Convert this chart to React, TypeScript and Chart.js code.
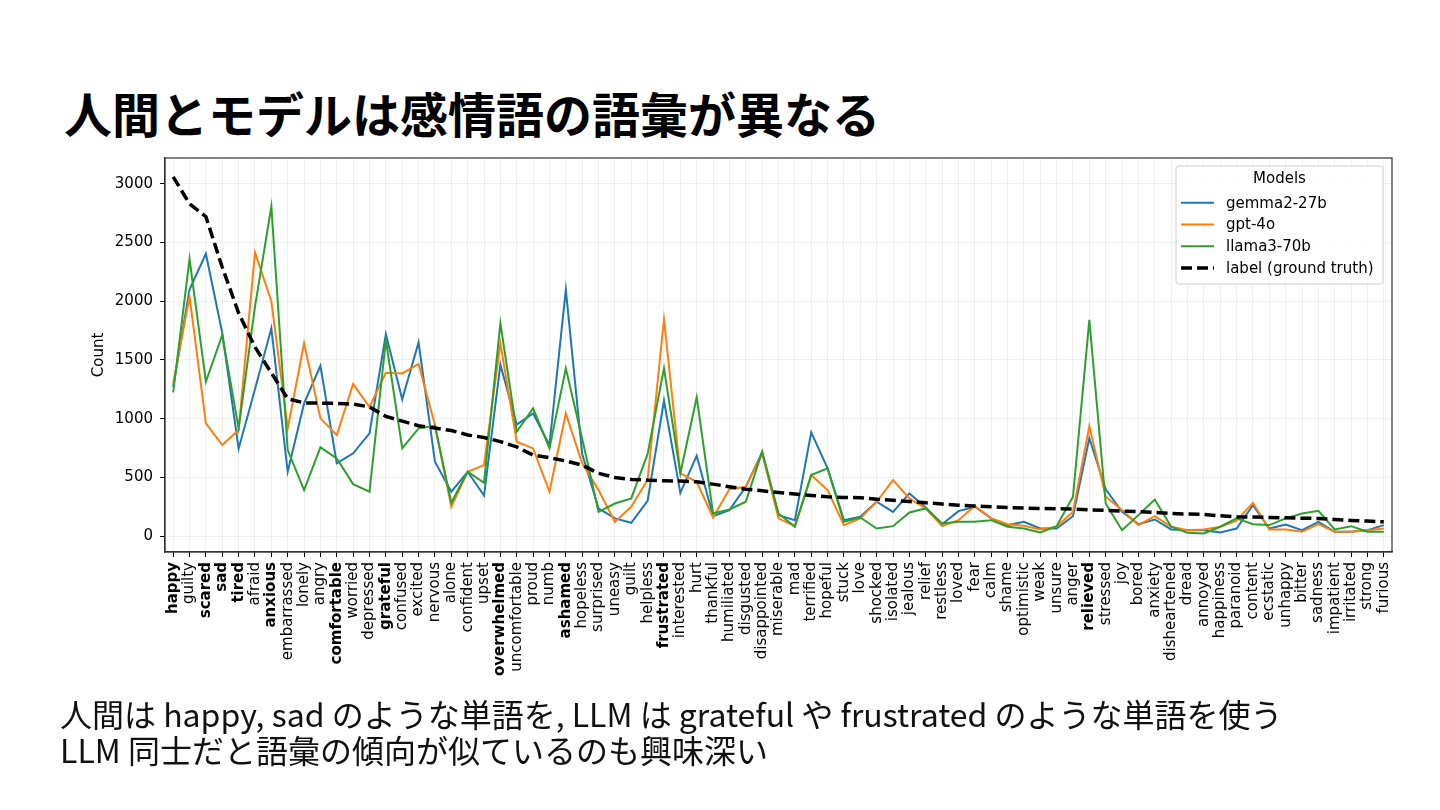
import { useEffect, useRef } from 'react';
import { Chart, registerables } from 'chart.js';

Chart.register(...registerables);

const categories = [
  'happy', 'guilty', 'scared', 'sad', 'tired', 'afraid', 'anxious', 'embarrassed', 'lonely', 'angry',
  'comfortable', 'worried', 'depressed', 'grateful', 'confused', 'excited', 'nervous', 'alone', 'confident', 'upset',
  'overwhelmed', 'uncomfortable', 'proud', 'numb', 'ashamed', 'hopeless', 'surprised', 'uneasy', 'guilt', 'helpless',
  'frustrated', 'interested', 'hurt', 'thankful', 'humiliated', 'disgusted', 'disappointed', 'miserable', 'mad', 'terrified',
  'hopeful', 'stuck', 'love', 'shocked', 'isolated', 'jealous', 'relief', 'restless', 'loved', 'fear',
  'calm', 'shame', 'optimistic', 'weak', 'unsure', 'anger', 'relieved', 'stressed', 'joy', 'bored',
  'anxiety', 'disheartened', 'dread', 'annoyed', 'happiness', 'paranoid', 'content', 'ecstatic', 'unhappy', 'bitter',
  'sadness', 'impatient', 'irritated', 'strong', 'furious',
];

const boldWords = [
  'happy', 'scared', 'sad', 'tired', 'anxious', 'comfortable', 'grateful',
  'overwhelmed', 'ashamed', 'frustrated', 'relieved',
];

const gemmaCounts = [
  1270, 2100, 2405, 1730, 745, 1250, 1770, 548, 1130, 1450,
  620, 705, 875, 1720, 1165, 1650, 634, 378, 548, 345,
  1460, 950, 1045, 776, 2100, 700, 236, 151, 114, 301,
  1155, 369, 685, 170, 222, 420, 715, 179, 136, 885,
  577, 136, 165, 293, 207, 364, 244, 102, 213, 250,
  151, 94, 122, 65, 65, 170, 835, 398, 207, 102,
  142, 57, 51, 51, 31, 65, 264, 65, 99, 51,
  122, 37, 37, 51, 94,
];

const gptCounts = [
  1300, 2040, 960, 776, 903, 2415, 2000, 918, 1642, 1003,
  861, 1295, 1100, 1392, 1386, 1466, 946, 250, 548, 605,
  1642, 804, 747, 378, 1045, 620, 392, 122, 250, 480,
  1845, 534, 463, 159, 400, 420, 705, 151, 85, 520,
  392, 94, 151, 293, 477, 321, 236, 85, 136, 256,
  151, 102, 88, 57, 80, 207, 938, 335, 222, 94,
  170, 80, 51, 57, 80, 131, 284, 57, 57, 37,
  102, 37, 37, 51, 65,
];

const llamaCounts = [
  1224, 2360, 1315, 1713, 918, 1955, 2807, 733, 392, 756,
  662, 443, 378, 1670, 747, 918, 940, 284, 548, 455,
  1813, 889, 1088, 747, 1429, 830, 207, 278, 321, 700,
  1429, 534, 1182, 193, 227, 293, 719, 193, 80, 520,
  577, 122, 159, 65, 85, 202, 236, 108, 122, 122,
  136, 80, 65, 31, 85, 335, 1841, 278, 51, 179,
  312, 80, 28, 23, 80, 151, 102, 94, 151, 193,
  216, 57, 85, 37, 37,
];

const labelCounts = [
  3060, 2830, 2720, 2290, 1900, 1610, 1390, 1170, 1135, 1133,
  1130, 1125, 1100, 1020, 980, 940, 920, 900, 862, 840,
  805, 760, 690, 668, 640, 605, 535, 500, 483, 477,
  472, 469, 463, 443, 420, 400, 386, 372, 358, 347,
  335, 330, 327, 315, 305, 295, 284, 273, 264, 256,
  250, 244, 239, 236, 233, 230, 224, 219, 213, 208,
  202, 193, 188, 185, 173, 165, 162, 159, 156, 153,
  151, 142, 134, 128, 122,
];

const yTicks = [0, 500, 1000, 1500, 2000, 2500, 3000];

const FONT = "'DejaVu Sans', sans-serif";
const JP_FONT = "'Noto Sans CJK JP', 'Noto Sans', sans-serif";

const legendEntries = [
  { text: 'gemma2-27b', color: '#1f77b4', dash: [] as number[], width: 2 },
  { text: 'gpt-4o', color: '#ff7f0e', dash: [] as number[], width: 2 },
  { text: 'llama3-70b', color: '#2ca02c', dash: [] as number[], width: 2 },
  { text: 'label (ground truth)', color: '#000000', dash: [11, 5], width: 3.5 },
];

// full frame around the plot, like matplotlib's spines
const framePlugin = {
  id: 'frame',
  afterDatasetsDraw(chart: Chart) {
    const { ctx, chartArea } = chart;
    ctx.save();
    ctx.strokeStyle = '#333';
    ctx.lineWidth = 1.2;
    ctx.strokeRect(chartArea.left, chartArea.top, chartArea.right - chartArea.left, chartArea.bottom - chartArea.top);
    ctx.restore();
  },
};

// legend box in the upper right of the plot
const legendPlugin = {
  id: 'legendBox',
  afterDraw(chart: Chart) {
    const { ctx, chartArea } = chart;
    const w = 207;
    const h = 118;
    const x = chartArea.right - 9 - w;
    const y = chartArea.top + 8;
    ctx.save();
    ctx.fillStyle = 'rgba(255,255,255,0.85)';
    ctx.strokeStyle = '#d0d0d0';
    ctx.lineWidth = 1;
    ctx.beginPath();
    ctx.roundRect(x, y, w, h, 3);
    ctx.fill();
    ctx.stroke();

    ctx.fillStyle = '#000';
    ctx.font = `15px ${FONT}`;
    ctx.textBaseline = 'middle';
    ctx.textAlign = 'center';
    ctx.fillText('Models', x + w / 2, y + 13);

    ctx.textAlign = 'left';
    legendEntries.forEach((e, i) => {
      const cy = y + 36.7 + i * 21.8;
      ctx.strokeStyle = e.color;
      ctx.lineWidth = e.width;
      ctx.setLineDash(e.dash);
      ctx.beginPath();
      ctx.moveTo(x + 5, cy);
      ctx.lineTo(x + 38, cy);
      ctx.stroke();
      ctx.setLineDash([]);
      ctx.fillStyle = '#000';
      ctx.fillText(e.text, x + 50, cy + 1);
    });
    ctx.restore();
  },
};

function EmotionChart() {
  const canvasRef = useRef<HTMLCanvasElement>(null);
  const chartRef = useRef<Chart | null>(null);

  useEffect(() => {
    if (!canvasRef.current) return;
    if (chartRef.current) chartRef.current.destroy();

    chartRef.current = new Chart(canvasRef.current, {
      type: 'line',
      data: {
        labels: categories,
        // first dataset is drawn on top
        datasets: [
          {
            label: 'label (ground truth)',
            data: labelCounts,
            borderColor: '#000000',
            borderWidth: 3.5,
            borderDash: [11, 5],
            pointRadius: 0,
            tension: 0,
          },
          {
            label: 'llama3-70b',
            data: llamaCounts,
            borderColor: '#2ca02c',
            borderWidth: 2,
            pointRadius: 0,
            tension: 0,
          },
          {
            label: 'gpt-4o',
            data: gptCounts,
            borderColor: '#ff7f0e',
            borderWidth: 2,
            pointRadius: 0,
            tension: 0,
          },
          {
            label: 'gemma2-27b',
            data: gemmaCounts,
            borderColor: '#1f77b4',
            borderWidth: 2,
            pointRadius: 0,
            tension: 0,
          },
        ],
      },
      options: {
        responsive: true,
        maintainAspectRatio: false,
        animation: false,
        layout: { padding: { left: 86, right: 48, top: 18, bottom: 0 } },
        plugins: {
          legend: { display: false },
          tooltip: { enabled: false },
        },
        scales: {
          x: {
            type: 'category',
            offset: true,
            afterFit: (scale: any) => {
              scale.height = 148;
            },
            grid: {
              color: 'rgba(0,0,0,0.06)',
              tickColor: '#000',
              tickLength: 5,
              tickWidth: 1,
            },
            border: { display: true, color: '#333', width: 1.2 },
            ticks: {
              autoSkip: false,
              maxRotation: 90,
              minRotation: 90,
              padding: 5,
              color: '#000',
              font: (ctx: any) => ({
                family: FONT,
                size: 15,
                weight: boldWords.includes(categories[ctx.index]) ? 'bold' : 'normal',
              }),
            },
          },
          y: {
            type: 'linear',
            min: -135,
            max: 3220,
            afterFit: (scale: any) => {
              scale.width = 79;
            },
            afterBuildTicks: (scale: any) => {
              scale.ticks = yTicks.map((v) => ({ value: v }));
            },
            title: {
              display: true,
              text: 'Count',
              color: '#000',
              font: { family: FONT, size: 15 },
              padding: { top: 4, bottom: 4 },
            },
            grid: {
              color: 'rgba(0,0,0,0.06)',
              tickColor: '#000',
              tickLength: 5,
              tickWidth: 1,
            },
            border: { display: true, color: '#333', width: 1.2 },
            ticks: {
              padding: 7,
              color: '#000',
              font: { family: FONT, size: 15 },
              callback: (value: any) => String(value),
            },
          },
        },
      },
      plugins: [framePlugin, legendPlugin],
    });

    return () => {
      if (chartRef.current) {
        chartRef.current.destroy();
        chartRef.current = null;
      }
    };
  }, []);

  return (
    <div style={{ position: 'absolute', left: 0, top: 140, width: 1440, height: 560 }}>
      <canvas ref={canvasRef} />
    </div>
  );
}

export default function App() {
  return (
    <div
      style={{
        position: 'fixed',
        left: 0,
        top: 0,
        width: 1440,
        height: 810,
        background: '#fff',
        overflow: 'hidden',
      }}
    >
      <div
        style={{
          position: 'absolute',
          left: 64,
          top: 88,
          fontFamily: JP_FONT,
          fontWeight: 700,
          fontSize: 48,
          lineHeight: '48px',
          color: '#000',
          whiteSpace: 'nowrap',
        }}
      >
        人間とモデルは感情語の語彙が異なる
      </div>
      <EmotionChart />
      <div
        style={{
          position: 'absolute',
          left: 60,
          top: 695,
          fontFamily: JP_FONT,
          fontWeight: 400,
          fontSize: 32,
          lineHeight: '36px',
          color: '#111',
          whiteSpace: 'nowrap',
        }}
      >
        <div>人間は happy, sad のような単語を, LLM は grateful や frustrated のような単語を使う</div>
        <div>LLM 同士だと語彙の傾向が似ているのも興味深い</div>
      </div>
    </div>
  );
}
